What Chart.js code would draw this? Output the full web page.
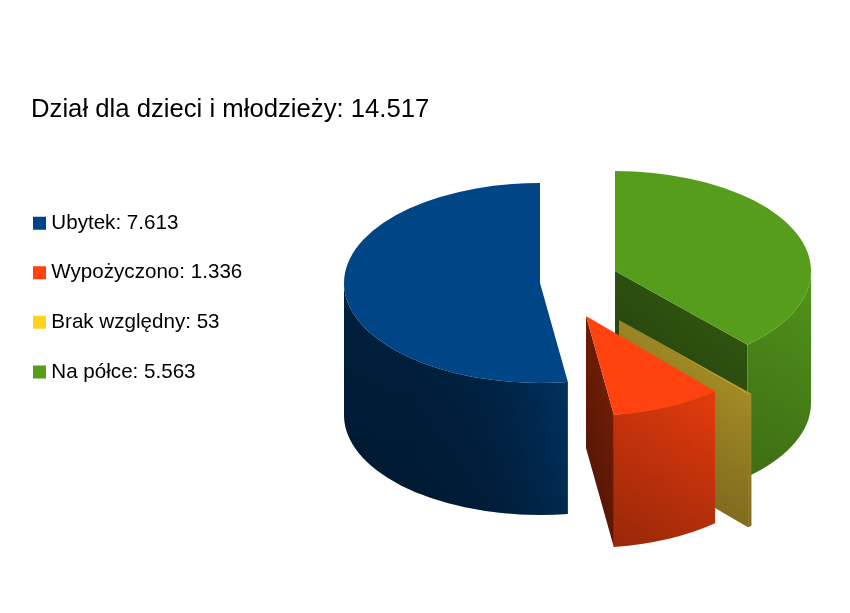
<!DOCTYPE html>
<html>
<head>
<meta charset="utf-8">
<title>Dział dla dzieci i młodzieży</title>
<script src="https://cdn.jsdelivr.net/npm/chart.js@4/dist/chart.umd.min.js"></script>
<style>
  body { margin: 0; background: #fff; }
  canvas { display: block; }
</style>
</head>
<body>
<canvas id="chart" width="850" height="613"></canvas>
<script>
/* DATA (clockwise from the top of the pie) */
const titleText = 'Dział dla dzieci i młodzieży: 14.517';
const categories = ['Na półce', 'Brak względny', 'Wypożyczono', 'Ubytek'];
const shownValues = ['5.563', '53', '1.336', '7.613'];
const values = [5563, 53, 1336, 7613];

/* STYLE */
const colors = ['#579d1c', '#ffd320', '#ff420e', '#004586'];
const faces = ['#579d1c', '#b59a2a', '#ff420e', '#004586'];
const shiftX = [55, 59, 26, -20];
const shiftY = [-11, 38, 34, 1];
const cutShade = [0.55, 0.93, 0.46, 0.5];
const pieCenter = { x: 560, y: 282 };
const squash = 0.51;
const depth = 132;

function shade(hex, f) {
  const n = parseInt(hex.slice(1), 16);
  const r = Math.round((n >> 16) * f);
  const g = Math.round(((n >> 8) & 255) * f);
  const b = Math.round((n & 255) * f);
  return `rgb(${r},${g},${b})`;
}

// brightness of the outer wall, depending on which way it faces
function wallLight(a) {
  const stops = [[0, 0.95], [0.84, 0.9], [1.43, 0.8], [1.6, 0.67], [1.85, 0.55], [2.27, 0.48], [Math.PI, 0.46]];
  for (let i = 1; i < stops.length; i++) {
    if (a <= stops[i][0]) {
      const t = (a - stops[i - 1][0]) / (stops[i][0] - stops[i - 1][0]);
      return stops[i - 1][1] + t * (stops[i][1] - stops[i - 1][1]);
    }
  }
  return 0.46;
}

// darkening towards the bottom of a wall
function fadeDown(ctx, top, bottom, alpha) {
  const g = ctx.createLinearGradient(0, top, 0, bottom);
  g.addColorStop(0, 'rgba(0,0,0,0)');
  g.addColorStop(1, `rgba(0,0,0,${alpha})`);
  ctx.fillStyle = g;
  ctx.fill();
}

function drawOuterWall(ctx, cx, cy, r, start, end, color) {
  const a0 = Math.max(start, 0);
  const a1 = Math.min(end, Math.PI);
  if (a1 <= a0) return;

  const x0 = cx + Math.cos(a1) * r;
  const x1 = cx + Math.cos(a0) * r;
  const grad = ctx.createLinearGradient(x0, 0, x1, 0);
  for (let i = 0; i <= 24; i++) {
    const a = a1 + (a0 - a1) * i / 24;
    const pos = (cx + Math.cos(a) * r - x0) / (x1 - x0);
    grad.addColorStop(Math.min(Math.max(pos, 0), 1), shade(color, wallLight(a)));
  }

  ctx.beginPath();
  ctx.ellipse(cx, cy, r, r * squash, 0, a0, a1);
  ctx.ellipse(cx, cy + depth, r, r * squash, 0, a1, a0, true);
  ctx.closePath();
  ctx.fillStyle = grad;
  ctx.fill();
  const top = cy + r * squash * Math.min(Math.sin(a0), Math.sin(a1));
  fadeDown(ctx, top, cy + r * squash + depth, 0.25);
}

function drawCutWall(ctx, cx, cy, r, angle, color, f) {
  const ex = cx + Math.cos(angle) * r;
  const ey = cy + Math.sin(angle) * r * squash;
  const grad = ctx.createLinearGradient(cx, 0, ex, 0);
  grad.addColorStop(0, shade(color, f * 0.92));
  grad.addColorStop(1, shade(color, f * 1.08));

  ctx.beginPath();
  ctx.moveTo(cx, cy);
  ctx.lineTo(ex, ey);
  ctx.lineTo(ex, ey + depth);
  ctx.lineTo(cx, cy + depth);
  ctx.closePath();
  ctx.fillStyle = grad;
  ctx.fill();
  fadeDown(ctx, Math.min(cy, ey), Math.max(cy, ey) + depth, 0.3);
}

function drawTop(ctx, cx, cy, r, start, end, color) {
  ctx.beginPath();
  ctx.moveTo(cx, cy);
  ctx.ellipse(cx, cy, r, r * squash, 0, start, end);
  ctx.closePath();
  ctx.fillStyle = color;
  ctx.fill();
}

/* draws the arcs of the pie as exploded 3D slices */
const pie3d = {
  id: 'pie3d',
  afterLayout(chart) {
    chart.titleBlock.left = 31;
  },
  beforeDatasetsDraw(chart) {
    const ctx = chart.ctx;
    const arcs = chart.getDatasetMeta(0).data;

    arcs.forEach((arc, i) => {
      const { startAngle, endAngle, outerRadius } = arc;
      const cx = pieCenter.x + shiftX[i];
      const cy = pieCenter.y + shiftY[i];
      const color = faces[i];

      ctx.save();
      if (Math.cos(endAngle) > 0.01) {
        drawCutWall(ctx, cx, cy, outerRadius, endAngle, color, cutShade[i]);
      }
      if (Math.cos(startAngle) < -0.01) {
        drawCutWall(ctx, cx, cy, outerRadius, startAngle, color, cutShade[i]);
      }
      drawOuterWall(ctx, cx, cy, outerRadius, startAngle, endAngle, color);
      drawTop(ctx, cx, cy, outerRadius, startAngle, endAngle, color);
      ctx.restore();
    });
    return false;
  }
};

/* CHART */
Chart.defaults.font.family = '"Liberation Sans", Arial, sans-serif';
Chart.defaults.color = '#000';

new Chart(document.getElementById('chart'), {
  type: 'pie',
  data: {
    labels: categories.map((c, i) => `${c}: ${shownValues[i]}`),
    datasets: [{
      data: values,
      backgroundColor: colors,
      borderWidth: 0
    }]
  },
  plugins: [pie3d],
  options: {
    responsive: false,
    animation: false,
    radius: 196,
    layout: { padding: { left: 9 } },
    plugins: {
      tooltip: { enabled: false },
      title: {
        display: true,
        text: titleText,
        align: 'start',
        color: '#000',
        font: { size: 25.7, weight: 'normal' },
        padding: { top: 94, bottom: 59 }
      },
      legend: {
        position: 'left',
        align: 'start',
        fullSize: false,
        reverse: true,
        labels: {
          boxWidth: 3,
          boxHeight: 3,
          padding: 29,
          color: '#000',
          font: { size: 20.6 },
          // a thick outline makes the swatch square and keeps it close to the text
          generateLabels(chart) {
            return Chart.overrides.pie.plugins.legend.labels.generateLabels(chart).map(item => ({
              ...item,
              lineWidth: 10,
              strokeStyle: item.fillStyle
            }));
          }
        }
      }
    }
  }
});
</script>
</body>
</html>
